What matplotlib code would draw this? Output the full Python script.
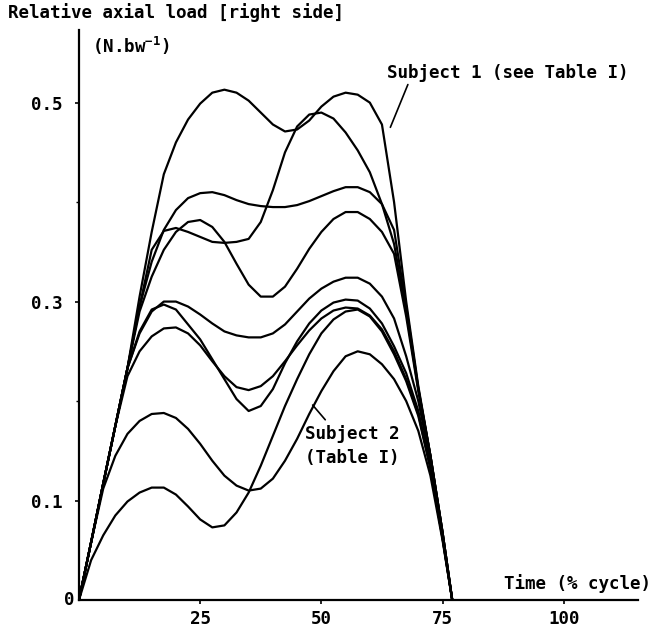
import matplotlib.pyplot as plt

# time axis (% of cycle), shared by every curve
TIME = [0, 2.5, 5, 7.5, 10, 12.5, 15, 17.5, 20, 22.5, 25, 27.5, 30, 32.5, 35,
        37.5, 40, 42.5, 45, 47.5, 50, 52.5, 55, 57.5, 60, 62.5, 65, 67.5, 70,
        72.5, 75, 77]

# relative axial load (N.bw-1), one list per subject
SUBJECT_1 = [0, .058, .117, .175, .233, .305, .37, .428, .46, .483, .499, .51,
             .513, .51, .502, .49, .478, .471, .473, .482, .496, .506, .51,
             .508, .5, .478, .40, .30, .215, .145, .068, 0]
CURVE_C = [0, .058, .117, .175, .233, .295, .34, .372, .392, .404, .409, .41,
           .407, .402, .398, .396, .395, .395, .397, .401, .406, .411, .415,
           .415, .41, .398, .372, .295, .213, .145, .068, 0]
CURVE_D = [0, .058, .117, .175, .233, .295, .352, .371, .374, .37, .365, .36,
           .359, .36, .363, .38, .412, .45, .476, .488, .49, .484, .47, .452,
           .43, .398, .358, .29, .212, .145, .068, 0]
CURVE_E = [0, .058, .117, .175, .233, .29, .325, .352, .37, .38, .382, .375,
           .36, .338, .317, .305, .305, .315, .333, .353, .37, .383, .39, .39,
           .383, .37, .348, .285, .21, .145, .068, 0]
CURVE_F = [0, .058, .117, .175, .233, .268, .29, .3, .3, .295, .287, .278,
           .27, .266, .264, .264, .268, .277, .29, .303, .313, .32, .324, .324,
           .318, .305, .283, .245, .2, .14, .065, 0]
CURVE_G = [0, .058, .117, .175, .233, .27, .292, .297, .292, .277, .262, .242,
           .222, .202, .19, .195, .212, .238, .26, .278, .291, .299, .302,
           .301, .293, .278, .255, .228, .19, .135, .063, 0]
CURVE_H = [0, .058, .117, .175, .225, .25, .265, .273, .274, .268, .256, .24,
           .225, .214, .211, .215, .225, .24, .256, .271, .283, .291, .294,
           .293, .286, .272, .25, .222, .187, .133, .062, 0]
CURVE_J = [0, .04, .065, .085, .099, .108, .113, .113, .106, .094, .081, .073,
           .075, .088, .108, .135, .165, .195, .222, .247, .268, .282, .29,
           .292, .285, .27, .247, .22, .185, .132, .062, 0]
SUBJECT_2 = [0, .058, .112, .145, .167, .18, .187, .188, .183, .172, .157, .14,
             .125, .115, .11, .112, .122, .14, .162, .187, .21, .23, .245, .25,
             .247, .237, .222, .2, .17, .125, .06, 0]

CURVES = [SUBJECT_1, CURVE_C, CURVE_D, CURVE_E, CURVE_F, CURVE_G, CURVE_H,
          CURVE_J, SUBJECT_2]

Y_TICKS = [0.1, 0.3, 0.5]
Y_TICK_LABELS = ["0.1", "0.3", "0.5"]
X_TICKS = [25, 50, 75, 100]
X_TICK_LABELS = ["25", "50", "75", "100"]

FONT = "DejaVu Sans Mono"
FS = 12.6

plt.rcParams["font.family"] = FONT
plt.rcParams["font.weight"] = "bold"

fig = plt.figure(figsize=(6.56, 6.29), dpi=100, facecolor="white")
ax = fig.add_axes([0.1204, 0.0461, 0.852, 0.9062])

# =========================
# CURVES
# =========================

for values in CURVES:
    ax.plot(TIME, values, color="black", lw=1.6, solid_joinstyle="round")

# =========================
# AXES
# =========================

ax.set_xlim(0, 115.3)
ax.set_ylim(0, 0.573)

for side in ["top", "right"]:
    ax.spines[side].set_visible(False)
for side in ["left", "bottom"]:
    ax.spines[side].set_linewidth(1.6)

ax.set_yticks(Y_TICKS)
ax.set_yticklabels(Y_TICK_LABELS)
ax.set_yticks([0.2, 0.4], minor=True)
ax.set_xticks(X_TICKS)
ax.set_xticklabels(X_TICK_LABELS)

ax.tick_params(axis="y", which="major", direction="out", length=3, width=1.2,
               pad=9, labelsize=FS)
ax.tick_params(axis="y", which="minor", direction="out", length=2, width=1)
ax.tick_params(axis="x", direction="out", length=3, width=1.2, pad=4,
               labelsize=FS)

ax.text(-0.9, 0, "0", ha="right", va="center", fontsize=FS)

# =========================
# LABELS
# =========================

fig.text(8 / 656, 1 - 13 / 629, "Relative axial load [right side]",
         ha="left", va="center", fontsize=FS)
fig.text(92 / 656, 1 - 46 / 629, "(N.bw$\\mathregular{^{-1}}$)",
         ha="left", va="center", fontsize=FS)
fig.text(651 / 656, 1 - 584 / 629, "Time (% cycle)",
         ha="right", va="center", fontsize=FS)

ax.annotate(
    "Subject 1 (see Table I)",
    xy=(63.8, 0.47),
    xytext=(63.6, 0.530),
    fontsize=FS,
    va="center",
    ha="left",
    arrowprops=dict(arrowstyle="-", color="black", lw=1.2,
                    shrinkA=0, shrinkB=4, relpos=(0.09, 0)),
)

ax.annotate(
    "Subject 2\n(Table I)",
    xy=(48.2, 0.196),
    xytext=(46.6, 0.155),
    fontsize=FS,
    va="center",
    ha="left",
    linespacing=1.45,
    arrowprops=dict(arrowstyle="-", color="black", lw=1.2,
                    shrinkA=2, shrinkB=0, relpos=(0.26, 1)),
)

plt.savefig("out.png", dpi=100, facecolor=fig.get_facecolor())
plt.close(fig)
